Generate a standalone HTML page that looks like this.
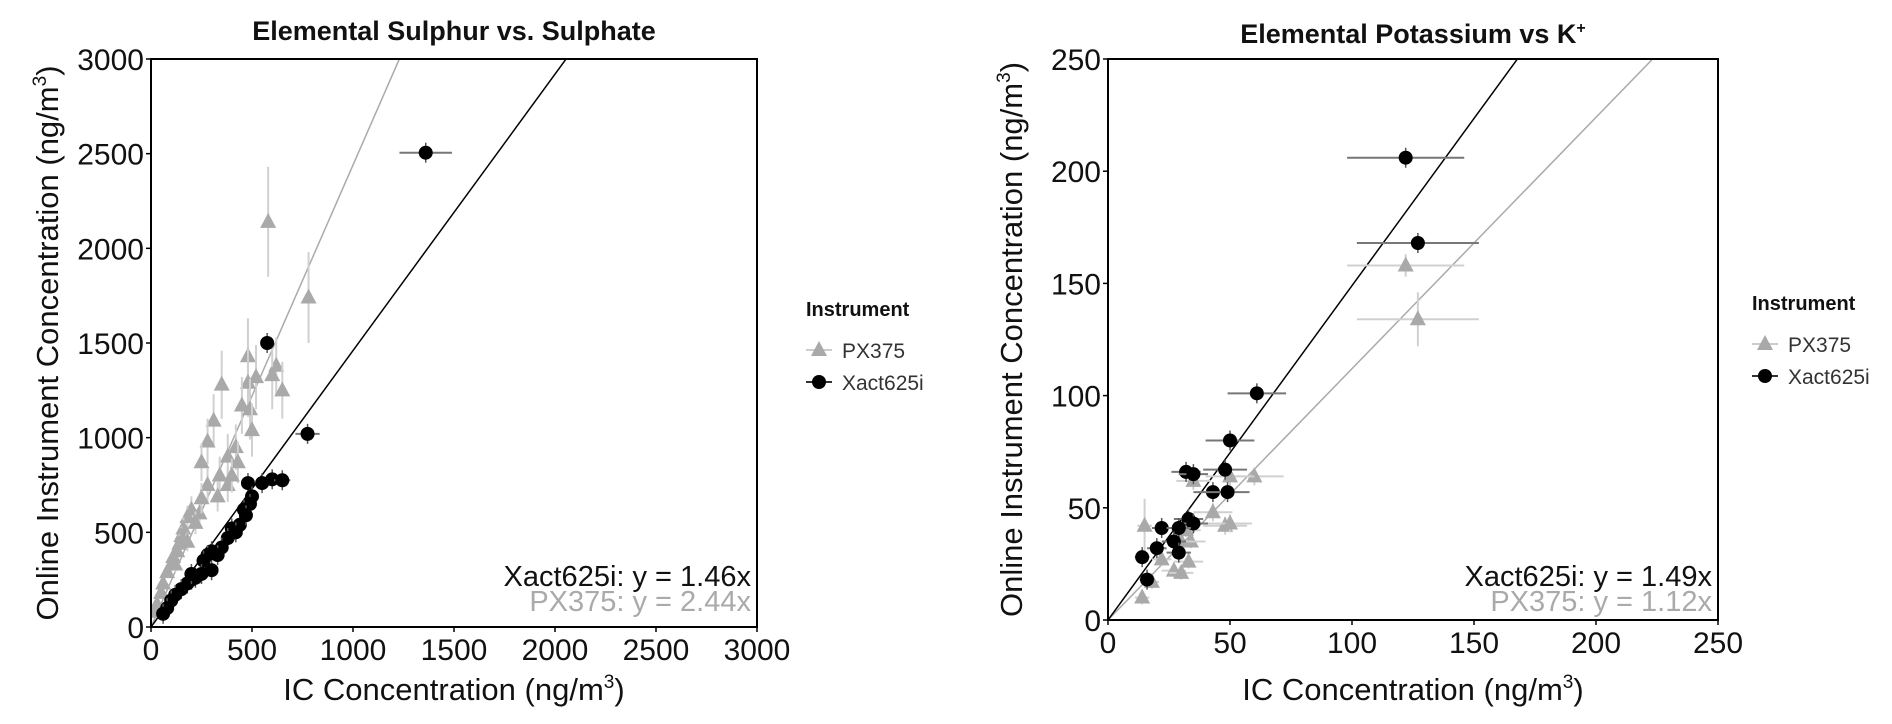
<!DOCTYPE html>
<html><head><meta charset="utf-8"><style>
body{margin:0;background:#fff;}
svg{display:block;font-family:"Liberation Sans",Arial,sans-serif;}
</style></head><body>
<svg id="chart" width="1892" height="724"></svg>
<script>
// ---- Data: left panel (Sulphur) ----
const sXactX=[1360,575,775,600,650,550,480,500,490,460,440,400,380,350,300,280,260,300,250,220,200,180,150,120,100,80,60,420,470,330,200];
const sXactY=[2505,1500,1020,780,775,760,760,690,650,620,540,520,470,420,400,380,350,300,280,260,250,230,200,170,140,100,70,500,590,380,280];
const sXactXerr=[130,30,60,40,40,30,30,30,30,30,30,25,25,20,20,20,20,20,15,15,15,15,10,10,10,8,8,25,30,20,15];
const sPxX=[580,780,480,350,620,650,600,520,480,450,490,310,280,500,250,380,420,430,340,280,380,330,200,240,180,160,150,140,130,110,100,80,60,50,30,20,250,400,220,180,120];
const sPxY=[2140,1740,1430,1280,1380,1250,1330,1320,1290,1170,1150,1090,980,1040,870,900,950,870,800,750,750,690,620,600,580,520,480,440,400,370,330,290,230,180,120,80,680,800,550,450,330];
const sPxYerr=[290,240,200,180,150,150,180,170,180,150,160,140,120,140,100,120,120,110,100,90,90,80,70,70,60,60,50,50,40,40,40,30,30,20,20,10,80,90,60,50,40];
const sSlopeX=1.46, sSlopeP=2.44;
// ---- Data: right panel (Potassium) ----
const kXactX=[122,127,61,50,48,32,35,43,49,33,35,22,29,20,27,29,14,16];
const kXactY=[206,168,101,80,67,66,65,57,57,45,43,41,41,32,35,30,28,18];
const kXactXerr=[24,25,12,10,9,6,6,8,9,6,6,4,5,4,5,5,3,3];
const kPxX=[122,127,60,50,35,43,48,50,15,34,30,22,33,27,30,18,14,32];
const kPxY=[158,134,64,64,62,48,42,43,42,35,35,27,26,22,21,17,10,40];
const kPxXerr=[24,25,12,10,7,8,9,9,3,6,6,4,6,5,5,3,3,6];
const kPxYerr=[5,12,4,4,4,4,4,4,12,3,3,3,3,3,3,3,3,3];
const kSlopeX=1.49, kSlopeP=1.12;

const NS="http://www.w3.org/2000/svg";
const svg=document.getElementById('chart');
function mk(tag,attrs,parent){const e=document.createElementNS(NS,tag);for(const k in attrs)e.setAttribute(k,attrs[k]);(parent||svg).appendChild(e);return e;}
function txt(s,attrs,name){const t=mk('text',attrs);t.textContent=s;return t;}

function panel(cfg){
  const {x0,x1,y0,y1,max,ticks}=cfg;
  const sx=v=>x0+(x1-x0)*v/max, sy=v=>y0-(y0-y1)*v/max;
  const g=mk('g',{});
  
  
  const clipId=cfg.name+'-clip';
  const cp=mk('clipPath',{id:clipId},g);mk('rect',{x:x0,y:y1,width:x1-x0,height:y0-y1},cp);
  const plot=mk('g',{'clip-path':'url(#'+clipId+')'},g);
  [[cfg.slopeP,'#aaaaaa','fit-line-px375'],[cfg.slopeX,'#000','fit-line-xact625i']].forEach(([m,c,n])=>{
    const l=mk('line',{x1:sx(0),y1:sy(0),x2:sx(max),y2:sy(max*m),stroke:c,'stroke-width':1.5},plot);
    
  });
  cfg.px.x.forEach((v,i)=>{
    const cx=sx(v),cy=sy(cfg.px.y[i]);
    const xe=cfg.px.xe?cfg.px.xe[i]:0, ye=cfg.px.ye?cfg.px.ye[i]:0;
    if(xe)mk('line',{x1:sx(v-xe),x2:sx(v+xe),y1:cy,y2:cy,stroke:'#d0d0d0','stroke-width':2},plot);
    if(ye)mk('line',{x1:cx,x2:cx,y1:sy(cfg.px.y[i]-ye),y2:sy(cfg.px.y[i]+ye),stroke:'#d0d0d0','stroke-width':2},plot);
    const p=mk('polygon',{points:`${cx},${cy-9} ${cx-8},${cy+6} ${cx+8},${cy+6}`,fill:'#a9a9a9'},plot);
    
  });
  cfg.xa.x.forEach((v,i)=>{
    const cx=sx(v),cy=sy(cfg.xa.y[i]);const xe=cfg.xa.xe[i];
    mk('line',{x1:sx(v-xe),x2:sx(v+xe),y1:cy,y2:cy,stroke:'#777','stroke-width':2},plot);
    mk('line',{x1:cx,x2:cx,y1:cy-10,y2:cy+10,stroke:'#555','stroke-width':1.5},plot);
    const c=mk('circle',{cx:cx,cy:cy,r:7,fill:'#000'},plot);
    
  });
  mk('rect',{x:x0,y:y1,width:x1-x0,height:y0-y1,fill:'none',stroke:'#000','stroke-width':2},g);
  ticks.forEach(t=>{
    mk('line',{x1:sx(t),x2:sx(t),y1:y0,y2:y0+5,stroke:'#000','stroke-width':1.5},g);
    mk('line',{x1:x0-5,x2:x0,y1:sy(t),y2:sy(t),stroke:'#000','stroke-width':1.5},g);
    txt(String(t),{x:sx(t),y:y0+33,'text-anchor':'middle','font-size':30,fill:'#111'},'x-tick-label');
    txt(String(t),{x:x0-7,y:sy(t)+11,'text-anchor':'end','font-size':30,fill:'#111'},'y-tick-label');
  });
  txt('Xact625i: y = '+cfg.slopeX.toFixed(2)+'x',{x:x1-6,y:586,'text-anchor':'end','font-size':29,fill:'#111'},'fit-equation-xact625i');
  txt('PX375: y = '+cfg.slopeP.toFixed(2)+'x',{x:x1-6,y:611,'text-anchor':'end','font-size':29,fill:'#aaa'},'fit-equation-px375');
  const xt=txt('',{x:(x0+x1)/2,y:700,'text-anchor':'middle','font-size':31,fill:'#111'},'x-axis-title');
  xt.innerHTML='IC Concentration (ng/m<tspan dy="-12" font-size="19">3</tspan><tspan dy="12">)</tspan>';
  const yt=txt('',{x:0,y:0,'text-anchor':'middle','font-size':31,fill:'#111',transform:`translate(${cfg.ylx},${(y0+y1)/2}) rotate(-90)`},'y-axis-title');
  yt.innerHTML='Online Instrument Concentration (ng/m<tspan dy="-12" font-size="19">3</tspan><tspan dy="12">)</tspan>';
  const tt=txt('',{x:(x0+x1)/2,y:cfg.ty,'text-anchor':'middle','font-size':27,'font-weight':'bold',fill:'#111'},'chart-title');
  tt.innerHTML=cfg.title;
  const lx=cfg.lx, ly=cfg.ly;
  txt('Instrument',{x:lx,y:ly,'font-size':20,'font-weight':'bold',fill:'#111'},'legend-title');
  mk('line',{x1:lx,x2:lx+26,y1:ly+34,y2:ly+34,stroke:'#ccc','stroke-width':2});
  mk('polygon',{points:`${lx+13},${ly+25} ${lx+5},${ly+40} ${lx+21},${ly+40}`,fill:'#a9a9a9'});
  txt('PX375',{x:lx+36,y:ly+42,'font-size':21,fill:'#333'},'legend-entry-px375');
  mk('line',{x1:lx,x2:lx+26,y1:ly+66,y2:ly+66,stroke:'#333','stroke-width':2});
  mk('circle',{cx:lx+13,cy:ly+66,r:7,fill:'#000'});
  txt('Xact625i',{x:lx+36,y:ly+74,'font-size':21,fill:'#333'},'legend-entry-xact625i');
}
panel({name:'sulphur-panel',x0:151,x1:757,y0:627,y1:59,max:3000,ticks:[0,500,1000,1500,2000,2500,3000],
  slopeX:sSlopeX,slopeP:sSlopeP,title:'Elemental Sulphur vs. Sulphate',ty:40,ylx:58,lx:806,ly:316,
  px:{x:sPxX,y:sPxY,ye:sPxYerr},xa:{x:sXactX,y:sXactY,xe:sXactXerr}});
panel({name:'potassium-panel',x0:1108,x1:1718,y0:620,y1:59,max:250,ticks:[0,50,100,150,200,250],
  slopeX:kSlopeX,slopeP:kSlopeP,title:'Elemental Potassium vs K<tspan dy="-10" font-size="16">+</tspan>',ty:43,ylx:1022,lx:1752,ly:310,
  px:{x:kPxX,y:kPxY,xe:kPxXerr,ye:kPxYerr},xa:{x:kXactX,y:kXactY,xe:kXactXerr}});
</script>
</body></html>
